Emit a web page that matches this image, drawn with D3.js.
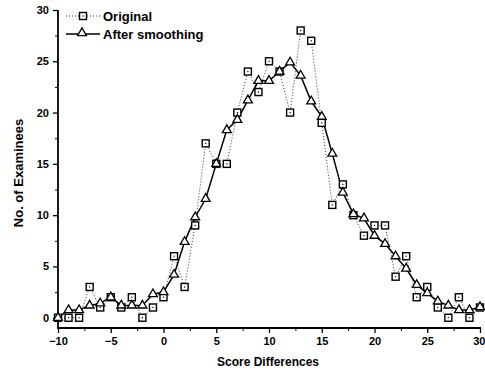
<!DOCTYPE html>
<html>
<head>
<meta charset="utf-8">
<script src="https://cdn.jsdelivr.net/npm/d3@7"></script>
<style>
  body { margin: 0; background: #fff; }
  text { font-family: "Liberation Sans", Arial, sans-serif; fill: #000; }
</style>
</head>
<body>
<div id="chart"></div>
<script>
document.addEventListener("DOMContentLoaded", function () {
    const width = 485;
    const height = 370;

    // score differences -10..30
    const scores = d3.range(-10, 31);
    const original = [0, 0, 0, 3, 1, 2, 1, 2, 0, 1,
        2, 6, 3, 9, 17, 15, 15, 20, 24, 22,
        25, 24, 20, 28, 27, 19, 11, 13, 10, 8,
        9, 9, 4, 6, 2, 3, 1, 0, 2, 0,
        1];
    const smoothed = [0, 0.75, 0.75, 1.2, 1.4, 2, 1.2, 1.2, 1.2, 2.3,
        2.5, 4.2, 7.4, 9.8, 11.6, 15, 18.3, 19.3, 21.2, 23.1,
        23.1, 24, 24.9, 23.6, 21.1, 19.6, 16, 12.2, 10.1, 9.7,
        8, 7.2, 6, 4.8, 3.2, 2.4, 1.6, 1.2, 0.75, 0.75,
        1.05];
    const xTicks = [-10, -5, 0, 5, 10, 15, 20, 25, 30];
    const yTicks = [0, 5, 10, 15, 20, 25, 30];

    const left = 58, right = 480, top = 10, bottom = 328;

    const svg = d3.select("#chart")
        .append("svg")
        .attr("width", width)
        .attr("height", height);

    const x = d3.scaleLinear().domain([-10, 30]).range([left, right]);
    const y = d3.scaleLinear().domain([-1, 30]).range([bottom, top]);

    // axes
    const xAxis = svg.append("g")
        .attr("transform", `translate(0,${bottom})`)
        .call(d3.axisBottom(x).tickValues(xTicks).tickSize(5).tickPadding(4).tickFormat(d3.format("d")));
    svg.append("g")
        .attr("transform", `translate(0,${bottom})`)
        .call(d3.axisBottom(x).tickValues(d3.range(-7.5, 30, 5)).tickSize(3).tickFormat(""))
        .select(".domain").remove();

    const yAxis = svg.append("g")
        .attr("transform", `translate(${left},0)`)
        .call(d3.axisLeft(y).tickValues(yTicks).tickSize(5).tickPadding(4).tickFormat(d3.format("d")));
    svg.append("g")
        .attr("transform", `translate(${left},0)`)
        .call(d3.axisLeft(y).tickValues(d3.range(2.5, 30, 5)).tickSize(3).tickFormat(""))
        .select(".domain").remove();

    [xAxis, yAxis].forEach(function (g) {
        g.select(".domain").remove();
        g.selectAll(".tick line").attr("stroke-width", 1.3);
        g.selectAll(".tick text")
            .style("font-size", "11px")
            .style("font-weight", "bold");
    });
    // last x label sits at the window edge, keep it inside
    xAxis.selectAll(".tick text")
        .filter(function (d) { return d === 30; })
        .attr("text-anchor", "end")
        .attr("dx", "0.45em");

    svg.append("line")
        .attr("x1", left).attr("x2", right + 1)
        .attr("y1", bottom).attr("y2", bottom)
        .attr("stroke", "#000").attr("stroke-width", 1.8);
    svg.append("line")
        .attr("x1", left).attr("x2", left)
        .attr("y1", top).attr("y2", bottom + 1)
        .attr("stroke", "#000").attr("stroke-width", 1.8);

    // axis titles
    svg.append("text")
        .attr("x", 268)
        .attr("y", 366)
        .attr("text-anchor", "middle")
        .style("font-size", "12px")
        .style("font-weight", "bold")
        .text("Score Differences");
    svg.append("text")
        .attr("transform", `translate(23,173) rotate(-90)`)
        .attr("text-anchor", "middle")
        .style("font-size", "13px")
        .style("font-weight", "bold")
        .text("No. of Examinees");

    const line = d3.line()
        .x(function (d, i) { return x(scores[i]); })
        .y(function (d) { return y(d); });

    // original: dotted line with squares
    svg.append("path")
        .datum(original)
        .attr("d", line)
        .attr("fill", "none")
        .attr("stroke", "#333")
        .attr("stroke-width", 1)
        .attr("stroke-dasharray", "1,2");

    // smoothed: solid line with triangles
    svg.append("path")
        .datum(smoothed)
        .attr("d", line)
        .attr("fill", "none")
        .attr("stroke", "#000")
        .attr("stroke-width", 1.5);

    function square(g, cx, cy) {
        g.append("rect")
            .attr("x", cx - 3.5).attr("y", cy - 3.5)
            .attr("width", 7).attr("height", 7)
            .attr("fill", "#fff")
            .attr("stroke", "#000")
            .attr("stroke-width", 1.4);
        g.append("rect")
            .attr("x", cx - 0.6).attr("y", cy - 0.6)
            .attr("width", 1.2).attr("height", 1.2)
            .attr("fill", "#000");
    }
    const tri = d3.symbol().type(d3.symbolTriangle).size(34);
    function triangle(g, cx, cy) {
        g.append("path")
            .attr("d", tri)
            .attr("transform", `translate(${cx},${cy})`)
            .attr("fill", "#fff")
            .attr("stroke", "#000")
            .attr("stroke-width", 1.3);
    }

    const marks = svg.append("g");
    original.forEach(function (d, i) { square(marks, x(scores[i]), y(d)); });
    smoothed.forEach(function (d, i) { triangle(marks, x(scores[i]), y(d)); });

    // legend
    const legend = svg.append("g");
    legend.append("line")
        .attr("x1", 66).attr("x2", 100).attr("y1", 16).attr("y2", 16)
        .attr("stroke", "#333").attr("stroke-width", 1).attr("stroke-dasharray", "1,2");
    square(legend, 83, 16);
    legend.append("text")
        .attr("x", 103).attr("y", 21)
        .style("font-size", "13px")
        .style("font-weight", "bold")
        .text("Original");
    legend.append("line")
        .attr("x1", 66).attr("x2", 100).attr("y1", 34).attr("y2", 34)
        .attr("stroke", "#000").attr("stroke-width", 1.5);
    triangle(legend, 82, 33);
    legend.append("text")
        .attr("x", 103).attr("y", 39)
        .style("font-size", "13px")
        .style("font-weight", "bold")
        .text("After smoothing");
});
</script>
</body>
</html>
